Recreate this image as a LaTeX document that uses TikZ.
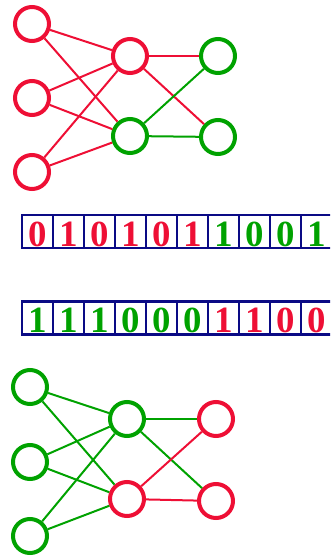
\documentclass[tikz,border=0pt]{standalone}
\usepackage{fontspec}
\usepackage{graphicx}
\setmainfont{Liberation Serif}
\definecolor{nred}{HTML}{EE0F35}
\definecolor{ngreen}{HTML}{00A200}
\definecolor{bnavy}{HTML}{0A0A85}
\newcommand{\bitdigit}[1]{\raisebox{-14.8pt}[0pt][0pt]{\resizebox{!}{24.5pt}{\bfseries #1}}}
\tikzset{
  neuron/.style={circle,draw=#1,line width=4pt,minimum size=34pt,inner sep=0pt},
  link/.style={draw=#1,line width=2pt},
  bit/.style={draw=bnavy,line width=2.2pt,minimum width=31pt,minimum height=33pt,inner sep=0pt,
    text=#1},
}
\begin{document}
\begin{tikzpicture}[x=1pt,y=-1pt]
\clip (0,0) rectangle (330,558);
\useasboundingbox (0,0) rectangle (330,558);
% top network
\node[neuron=nred] (ta1) at (32,24) {};
\node[neuron=nred] (ta2) at (32,98) {};
\node[neuron=nred] (ta3) at (32,172) {};
\node[neuron=nred] (th1) at (130,56) {};
\node[neuron=ngreen] (th2) at (130,136) {};
\node[neuron=ngreen] (to1) at (218,56) {};
\node[neuron=ngreen] (to2) at (218,137) {};
\foreach \a in {ta1,ta2,ta3}{\foreach \b in {th1,th2}{\path[link=nred] (\a) -- (\b);}}
\path[link=nred] (th1) -- (to1);
\path[link=nred] (th1) -- (to2);
\path[link=ngreen] (th2) -- (to1);
\path[link=ngreen] (th2) -- (to2);
% bit rows
\foreach \d [count=\i] in {0,1,0,1,0,1}{\node[bit=nred] (r\i) at (22+15.5+31*\i-31,231.5) {\bitdigit{\d}};}
\foreach \d [count=\i from 7] in {1,0,0,1}{\node[bit=ngreen] (r\i) at (22+15.5+31*\i-31,231.5) {\bitdigit{\d}};}
\foreach \d [count=\i] in {1,1,1,0,0,0}{\node[bit=ngreen] (s\i) at (22+15.5+31*\i-31,318) {\bitdigit{\d}};}
\foreach \d [count=\i from 7] in {1,1,0,0}{\node[bit=nred] (s\i) at (22+15.5+31*\i-31,318) {\bitdigit{\d}};}
% bottom network
\node[neuron=ngreen] (ba1) at (30,387) {};
\node[neuron=ngreen] (ba2) at (30,462) {};
\node[neuron=ngreen] (ba3) at (30,536) {};
\node[neuron=ngreen] (bh1) at (127,419) {};
\node[neuron=nred] (bh2) at (127,499) {};
\node[neuron=nred] (bo1) at (216,419) {};
\node[neuron=nred] (bo2) at (216,501) {};
\foreach \a in {ba1,ba2,ba3}{\foreach \b in {bh1,bh2}{\path[link=ngreen] (\a) -- (\b);}}
\path[link=ngreen] (bh1) -- (bo1);
\path[link=ngreen] (bh1) -- (bo2);
\path[link=nred] (bh2) -- (bo1);
\path[link=nred] (bh2) -- (bo2);
\end{tikzpicture}
\end{document}
